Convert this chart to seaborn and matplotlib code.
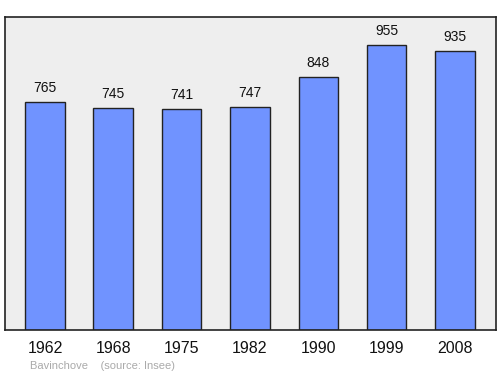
import matplotlib
matplotlib.use("Agg")
import matplotlib.pyplot as plt
import seaborn as sns
import pandas as pd

years = ["1962", "1968", "1975", "1982", "1990", "1999", "2008"]
population = [765, 745, 741, 747, 848, 955, 935]

sns.set_theme(style="white")
plt.rcParams['font.family'] = ['Liberation Sans', 'DejaVu Sans']

df = pd.DataFrame({"year": years, "pop": population})

fig = plt.figure(figsize=(5, 3.74), dpi=100)
ax = fig.add_axes([0.01, 0.118, 0.982, 0.837])
ax.set_facecolor("#eeeeee")
sns.barplot(data=df, x="year", y="pop", ax=ax, color="#7093ff", saturation=1,
            width=0.58, edgecolor="#222222", linewidth=1)
for i, v in enumerate(population):
    ax.text(i, v + 24, str(v), ha="center", va="bottom", fontsize=10, color="#111111")
ax.set_xlim(-0.585, 6.6)
ax.set_ylim(0, 1050)
ax.set_yticks([])
ax.set_xlabel("")
ax.set_ylabel("")
ax.tick_params(axis="x", labelsize=11.5, length=0, pad=8, colors="#111111")
for s in ax.spines.values():
    s.set_color("#222222")
    s.set_linewidth(1.2)
fig.text(0.06, 0.014, "Bavinchove    (source: Insee)", fontsize=8, color="#aaaaaa")
fig.savefig("out.png", dpi=100)
